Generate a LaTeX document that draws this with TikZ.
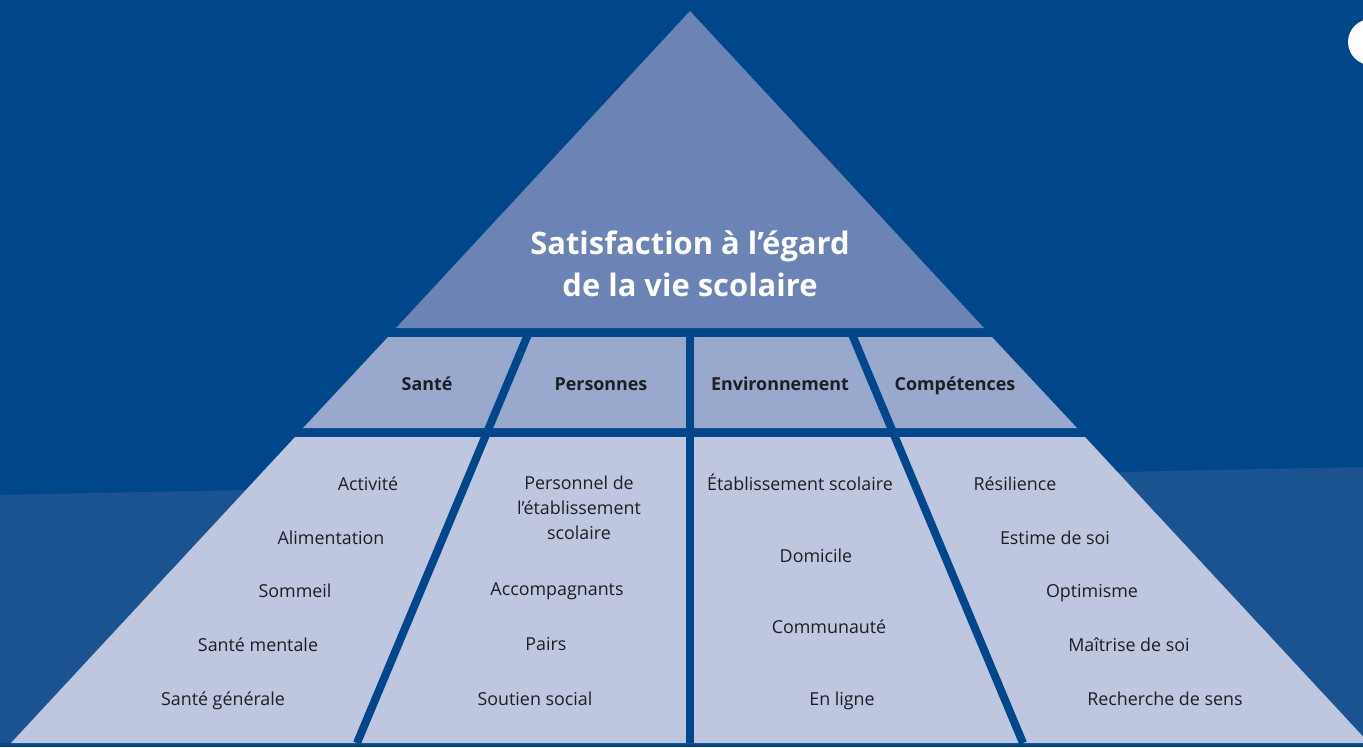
\documentclass[tikz,border=0pt]{standalone}
\usepackage{fontspec}
\setmainfont{Open Sans}
\usepackage{tikz}
\usetikzlibrary{shapes, arrows, positioning}
\definecolor{fondbleu}{RGB}{0,70,138}
\definecolor{fondclair}{RGB}{27,83,144}
\definecolor{sommet}{RGB}{108,131,181}
\definecolor{etage}{RGB}{153,168,205}
\definecolor{socle}{RGB}{190,198,224}
\definecolor{encre}{RGB}{30,30,35}
\tikzstyle{titre} = [text=white, font=\fontsize{23.2}{31.5}\selectfont\bfseries, align=center]
\tikzstyle{rubrique} = [text=encre, font=\fontsize{13.4}{15}\selectfont\bfseries, text height=14.5pt, text depth=3pt]
\tikzstyle{paragraphe} = [text=encre, font=\fontsize{13.4}{18.75}\selectfont, align=center]
\tikzstyle{element} = [paragraphe, text height=14.5pt, text depth=3pt]
\tikzstyle{separation} = [draw=fondbleu, line width=6pt]

\begin{document}
\begin{tikzpicture}[x=0.75pt, y=-0.75pt]
	\useasboundingbox (0,0) rectangle (1363,747);
	\clip (0,0) rectangle (1363,747);
	% fond
	\fill[fondbleu] (0,0) rectangle (1363,747);
	\fill[fondclair] (0,495) -- (1363,467) -- (1363,743) -- (0,743) -- cycle;
	\fill[white] (1371,42) circle (23);
	% pyramide
	\coordinate (apex) at (690,11);
	\fill[sommet] (apex) -- (984,328) -- (396,328) -- cycle;
	\fill[etage] (388,337) -- (992,337) -- (1077,428) -- (303,428) -- cycle;
	\fill[socle] (295,437) -- (1085,437) -- (1369,743) -- (11,743) -- cycle;
	% separations
	\coordinate (g1) at (529,332);
	\coordinate (g2) at (690,332);
	\coordinate (g3) at (851,332);
	\coordinate (b1) at (357,743);
	\coordinate (b2) at (690,743);
	\coordinate (b3) at (1023,743);
	\draw[separation] (g1) -- (b1);
	\draw[separation] (g2) -- (b2);
	\draw[separation] (g3) -- (b3);
	% titre
	\node[titre] (satisfaction) at (690,264) {Satisfaction à l’égard\\de la vie scolaire};
	% rubriques
	\node[rubrique] (sante) at (427,383) {Santé};
	\node[rubrique] (personnes) at (601,383) {Personnes};
	\node[rubrique] (environnement) at (780,383) {Environnement};
	\node[rubrique] (competences) at (955,383) {Compétences};
	% sante
	\node[element] (activite) at (368,483) {Activité};
	\node[element] (alimentation) at (331,537) {Alimentation};
	\node[element] (sommeil) at (295,590) {Sommeil};
	\node[element] (mentale) at (258,644) {Santé mentale};
	\node[element] (generale) at (223,698) {Santé générale};
	% personnes
	\node[paragraphe] (personnel) at (579,508) {Personnel de\\l’établissement\\scolaire};
	\node[element] (accompagnants) at (557,588) {Accompagnants};
	\node[element] (pairs) at (546,643) {Pairs};
	\node[element] (soutien) at (535,698) {Soutien social};
	% environnement
	\node[element] (etablissement) at (800,483) {Établissement scolaire};
	\node[element] (domicile) at (816,555) {Domicile};
	\node[element] (communaute) at (829,626) {Communauté};
	\node[element] (enligne) at (842,698) {En ligne};
	% competences
	\node[element] (resilience) at (1015,483) {Résilience};
	\node[element] (estime) at (1055,537) {Estime de soi};
	\node[element] (optimisme) at (1092,590) {Optimisme};
	\node[element] (maitrise) at (1129,644) {Maîtrise de soi};
	\node[element] (sens) at (1165,698) {Recherche de sens};
\end{tikzpicture}
\end{document}
